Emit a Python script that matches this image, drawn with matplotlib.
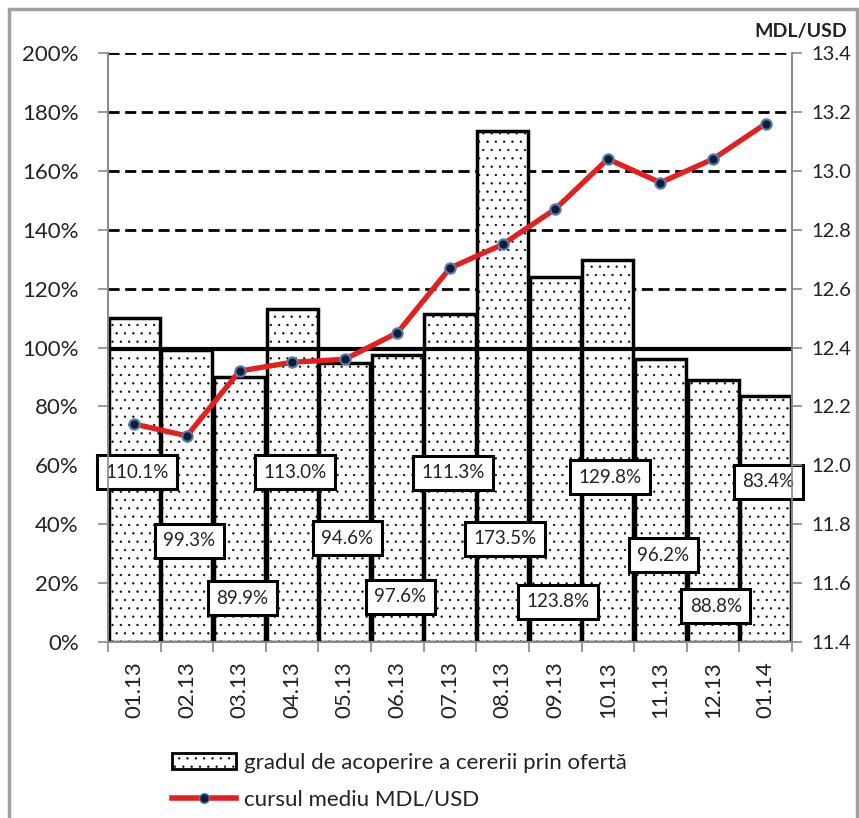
import numpy as np
import matplotlib
matplotlib.use('Agg')
import matplotlib.pyplot as plt
from matplotlib.patches import Patch, Rectangle
from matplotlib.lines import Line2D

plt.rcParams['font.family'] = ['Lato', 'DejaVu Sans']
plt.rcParams['hatch.linewidth'] = 0.4

# Data
months = ['01.13', '02.13', '03.13', '04.13', '05.13', '06.13', '07.13',
          '08.13', '09.13', '10.13', '11.13', '12.13', '01.14']
coverage = [110.1, 99.3, 89.9, 113.0, 94.6, 97.6, 111.3,
            173.5, 123.8, 129.8, 96.2, 88.8, 83.4]
rate = [12.14, 12.10, 12.32, 12.35, 12.36, 12.45, 12.67,
        12.75, 12.87, 13.04, 12.96, 13.04, 13.16]

# label box heights (in % of left axis)
label_pos = [57.6, 34.3, 14.8, 57.7, 35.3, 15.3, 57.4,
             35.0, 13.6, 55.9, 29.5, 12.2, 54.4]

x = np.arange(len(months))

fig = plt.figure(figsize=(8.59, 8.18), dpi=100)
ax = fig.add_axes([108/859, 1 - 642/818, (792-108)/859, (642-53)/818])

# bars
ax.bar(x, coverage, width=0.97, color='white', edgecolor='black',
       linewidth=2.5, hatch='..', zorder=2)
ax.axhline(99.5, color='black', linewidth=3, zorder=3)

ax.set_xlim(-0.5, len(months) - 0.5)
ax.set_ylim(0, 200)
ax.set_yticks(np.arange(0, 201, 20))
ax.set_yticklabels([f'{v}%' for v in range(0, 201, 20)])
ax.yaxis.grid(True, linestyle=(0, (4, 2)), color='black', linewidth=2)
ax.set_axisbelow(True)

ax.set_xticks(x)
ax.set_xticklabels(months, rotation=90, va='top')
ax.set_xticks(np.arange(-0.5, len(months)), minor=True)
ax.tick_params(axis='x', which='major', length=0, pad=14, labelsize=16,
               labelcolor='#222222')
ax.tick_params(axis='x', which='minor', length=7, color='#888888', width=1.2)
ax.tick_params(axis='y', length=7, color='#888888', width=1.2, pad=14,
               labelsize=16, labelcolor='#222222')

for s in ['left', 'bottom', 'right']:
    ax.spines[s].set_color('#888888')
    ax.spines[s].set_linewidth(1.2)
ax.spines['top'].set_visible(False)

# value labels in boxes
for xi, v, ly in zip(x, coverage, label_pos):
    ax.text(xi + 0.05, ly, f'{v:.1f}%', ha='center', va='center',
            fontsize=13.5, color='#222222', zorder=6,
            bbox=dict(boxstyle='square,pad=0.45', facecolor='white',
                      edgecolor='black', linewidth=2.2))

# exchange rate line
ax2 = ax.twinx()
ax2.plot(x, rate, color='#e3201f', linewidth=3.8, marker='o',
         markersize=7.5, markerfacecolor='#0d1e3d',
         markeredgecolor='#5b7ea6', markeredgewidth=1.5, zorder=5)
ax2.set_ylim(11.4, 13.4)
ax2.set_yticks(np.arange(11.4, 13.41, 0.2))
ax2.set_yticklabels([f'{v:.1f}' for v in np.arange(11.4, 13.41, 0.2)])
ax2.tick_params(axis='y', length=7, color='#888888', width=1.2, pad=7,
                labelsize=14.5, labelcolor='#222222')
for s in ['left', 'bottom', 'right']:
    ax2.spines[s].set_color('#888888')
    ax2.spines[s].set_linewidth(1.2)
ax2.spines['top'].set_visible(False)

fig.text(801/859, 1 - 32/818, 'MDL/USD', ha='center', va='center',
         fontsize=14, fontweight='bold', color='#222222')

# legend
handles = [
    Patch(facecolor='white', edgecolor='black', hatch='..', linewidth=2),
    Line2D([0], [0], color='#e3201f', linewidth=4, marker='o', markersize=7,
           markerfacecolor='#0d1e3d', markeredgecolor='#5b7ea6'),
]
labels = ['gradul de acoperire a cererii prin ofertă', 'cursul mediu MDL/USD']
fig.legend(handles, labels, loc='upper left',
           bbox_to_anchor=(152/859, 1 - 733/818), frameon=False,
           fontsize=16, handlelength=2.9, handleheight=0.75,
           handletextpad=0.35, labelspacing=0.75, labelcolor='#222222')

# outer frame
fig.patches.append(Rectangle((9/859, -0.1), (857-9)/859, 1.1 - 9/818,
                             transform=fig.transFigure, fill=False,
                             edgecolor='#a0a0a0', linewidth=2.5))

fig.savefig('out.png', dpi=100)
